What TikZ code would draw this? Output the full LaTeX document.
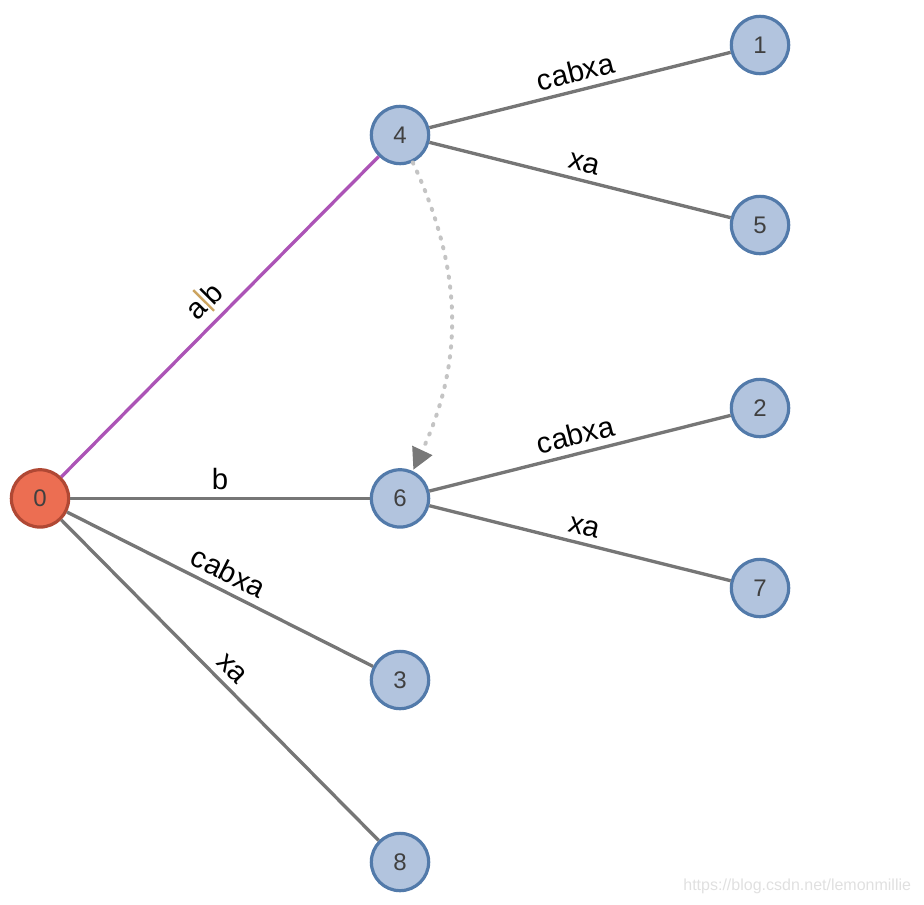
\documentclass[tikz,border=0pt]{standalone}
\usepackage{fontspec}
\setmainfont{Liberation Sans}
\usetikzlibrary{arrows.meta}

\definecolor{vtxfill}{RGB}{178,196,222}
\definecolor{vtxline}{RGB}{82,122,170}
\definecolor{rootfill}{RGB}{236,110,82}
\definecolor{rootline}{RGB}{176,72,52}
\definecolor{edgegray}{RGB}{118,118,118}
\definecolor{edgepurple}{RGB}{172,84,182}
\definecolor{abtan}{RGB}{204,164,96}
\definecolor{linkgray}{RGB}{196,196,196}
\definecolor{tipgray}{RGB}{120,120,120}

\tikzset{every picture/.style={line width=0.75pt}}
\tikzset{
  vtx/.style={circle, draw=vtxline, fill=vtxfill, line width=2.4pt, minimum size=43pt, inner sep=0pt,
    text=black!75, font=\fontsize{18}{20}\selectfont},
  rootvtx/.style={vtx, draw=rootline, fill=rootfill},
  treeedge/.style={draw=edgegray, line width=2.5pt},
  edgelabel/.style={midway, anchor=south, inner sep=5pt, font=\fontsize{22}{25}\selectfont},
}

\begin{document}
\begin{tikzpicture}[x=0.75pt,y=0.75pt,yscale=-1,xscale=1]
\useasboundingbox (0,0) rectangle (924,904);
% Nodes
\node[rootvtx] (n0) at (40,498.4) {0};
\node[vtx] (n4) at (400,135) {4};
\node[vtx] (n6) at (400,498.4) {6};
\node[vtx] (n3) at (400,680) {3};
\node[vtx] (n8) at (400,862) {8};
\node[vtx] (n1) at (760,45) {1};
\node[vtx] (n5) at (760,225) {5};
\node[vtx] (n2) at (760,408) {2};
\node[vtx] (n7) at (760,588) {7};

% Edges from the root
\draw[treeedge, draw=edgepurple] (n0) -- node[edgelabel, rotate=45.2] {a\kern1pt{\color{abtan}\rule[-3pt]{1.8pt}{22pt}}\kern1pt b} (n4);
\draw[treeedge] (n0) -- node[edgelabel] {b} (n6);
\draw[treeedge] (n0) -- node[edgelabel, rotate=-26.8] {cabxa} (n3);
\draw[treeedge] (n0) -- node[edgelabel, rotate=-45.3] {xa} (n8);
% Edges from 4 and 6
\draw[treeedge] (n4) -- node[edgelabel, rotate=14] {cabxa} (n1);
\draw[treeedge] (n4) -- node[edgelabel, rotate=-14] {xa} (n5);
\draw[treeedge] (n6) -- node[edgelabel, rotate=14.1] {cabxa} (n2);
\draw[treeedge] (n6) -- node[edgelabel, rotate=-14] {xa} (n7);

% Suffix link
\draw[draw=linkgray, line width=3pt, line cap=round, dash pattern=on 1pt off 6.5pt,
  -{Triangle[length=16pt,width=16pt,color=tipgray]}, shorten >=1pt]
  (n4) to[bend right=25] (n6);

% Watermark
\node[text=black!12, font=\fontsize{12}{14}\selectfont, anchor=east] (mark) at (916,886) {https://blog.csdn.net/lemonmillie};
\end{tikzpicture}
\end{document}
